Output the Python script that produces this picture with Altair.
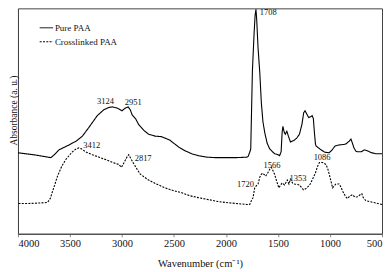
import altair as alt
import pandas as pd

# ---- data (absorbance in arbitrary units) ----
series_names = ["Pure PAA", "Crosslinked PAA"]

pure_wn = [4000, 3850, 3684, 3650, 3605, 3509, 3440, 3381, 3318, 3238, 3175, 3124, 3095, 3050,
           3000, 2965, 2941, 2920, 2903, 2870, 2840, 2790, 2744, 2680, 2620, 2585, 2540, 2505,
           2450, 2393, 2330, 2266, 2180, 2107, 2000, 1900, 1800, 1788, 1770, 1762, 1746, 1730,
           1720, 1712, 1705, 1692, 1675, 1660, 1645, 1628, 1605, 1580, 1533, 1500, 1485, 1470,
           1460, 1453, 1440, 1430, 1415, 1400, 1380, 1360, 1342, 1320, 1294, 1270, 1253, 1240,
           1225, 1205, 1185, 1172, 1160, 1150, 1140, 1134, 1110, 1086, 1050, 1007, 980, 950,
           911, 870, 847, 815, 799, 785, 770, 750, 736, 700, 670, 641, 600, 560, 500]
pure_abs = [83, 81, 78, 81, 86, 91, 95, 100, 109, 121, 127, 129.5, 130, 129,
            126, 129, 130, 127, 122, 118, 112, 106, 102, 100, 99.5, 98, 96, 93,
            88.5, 85, 82, 80, 78.5, 78, 78, 78, 78.5, 79, 84, 87, 167, 205,
            224, 230, 220, 191, 165, 134, 115, 104, 93, 87, 82, 81, 80, 84,
            104, 110, 104, 102, 105, 100, 94, 95, 96, 98, 102, 112, 124, 126,
            123, 119, 120, 121, 118, 104, 92, 90, 88, 86, 83.5, 83, 86, 90,
            91, 91.5, 92, 95, 97, 93, 88, 84.5, 84, 84, 86, 85, 83, 82, 82]

cross_wn = [4000, 3900, 3800, 3716, 3690, 3675, 3650, 3620, 3580, 3541, 3477, 3440, 3414, 3390,
            3350, 3286, 3220, 3158, 3090, 3031, 3005, 2975, 2950, 2935, 2910, 2888, 2860, 2824,
            2744, 2670, 2585, 2500, 2425, 2350, 2266, 2170, 2075, 2000, 1900, 1800, 1772, 1755,
            1740, 1724, 1710, 1692, 1675, 1660, 1645, 1619, 1600, 1580, 1564, 1550, 1533, 1510,
            1492, 1475, 1460, 1437, 1411, 1395, 1380, 1360, 1342, 1294, 1255, 1235, 1214, 1190,
            1172, 1141, 1120, 1102, 1071, 1038, 1020, 1007, 975, 960, 943, 911, 895, 880,
            850, 832, 810, 784, 760, 736, 710, 694, 680, 656, 620, 577, 540, 500]
cross_abs = [31, 31, 31.5, 32, 36, 41, 49, 59, 69, 76, 84, 87, 88, 87,
             84, 81, 78.5, 76, 73, 71, 68, 74, 79, 81, 76, 72, 67, 61,
             55, 51, 47, 44, 42, 39, 37, 35, 33, 32, 31, 30, 30, 34,
             37, 47, 49, 51, 58, 61, 62, 59, 62, 66, 68, 65, 61, 53,
             47, 50, 52, 50, 55, 51, 56, 52, 51, 50, 45, 46, 48, 51,
             55, 62, 69, 73, 73, 71, 66, 61, 47, 49, 51, 51, 48, 44,
             38, 36, 38.5, 40, 37.5, 38, 40, 41, 37, 34, 33, 32, 31, 30]

# peak annotations: text, anchor wavenumber, anchor absorbance, text alignment
ann_text = ["1708", "3124", "2951", "3412", "2817", "1720", "1566", "1353", "1086"]
ann_wn = [1676, 3158, 2891, 3372, 2878, 1731, 1557, 1389, 1076]
ann_abs = [227, 136.5, 135.5, 91, 77.5, 50.7, 70.7, 56.7, 78.3]
ann_align = ["left", "center", "center", "left", "left", "right", "center", "left", "center"]

tick_values = [4000, 3500, 3000, 2500, 2000, 1500, 1000, 500]

df = pd.concat([
    pd.DataFrame({"wn": pure_wn, "abs": pure_abs, "series": series_names[0]}),
    pd.DataFrame({"wn": cross_wn, "abs": cross_abs, "series": series_names[1]}),
])
ann = pd.DataFrame({"label": ann_text, "wn": ann_wn, "abs": ann_abs, "align": ann_align})

FONT = "Liberation Serif"

x_enc = alt.X(
    "wn:Q",
    scale=alt.Scale(domain=[500, 4000], reverse=True, nice=False, zero=False),
    axis=alt.Axis(
        values=tick_values, format="d", title="Wavenumber (cm⁻¹)",
        grid=False, tickSize=3, tickColor="#888", domainColor="#444",
        labelFont=FONT, labelFontSize=10.5, labelColor="#111", labelPadding=2,
        titleFont=FONT, titleFontSize=10.5, titleFontWeight="normal", titleColor="#111",
        titleY=30, titleBaseline="middle",
    ),
)
y_enc = alt.Y(
    "abs:Q",
    scale=alt.Scale(domain=[0, 231], nice=False, zero=False),
    axis=alt.Axis(
        labels=False, ticks=False, grid=False, domainColor="#444",
        title="Absorbance (a. u.)", titleFont=FONT, titleFontSize=9.5,
        titleFontWeight="normal", titleColor="#111",
        titleX=-4, titleY=102, titleBaseline="middle", titleAngle=270,
    ),
)

lines = alt.Chart(df).mark_line(color="black", strokeWidth=1.1).encode(
    x=x_enc,
    y=y_enc,
    strokeDash=alt.StrokeDash(
        "series:N",
        scale=alt.Scale(domain=series_names, range=[[1, 0], [2, 1.3]]),
        legend=alt.Legend(
            orient="none", legendX=21, legendY=12, title=None, padding=0,
            symbolType="stroke", symbolSize=180, symbolStrokeWidth=1,
            symbolStrokeColor="black", labelFont=FONT, labelFontSize=9,
            labelColor="#111", labelOffset=1, rowPadding=1,
        ),
    ),
    order="wn:Q",
)

texts = []
for a in ["left", "center", "right"]:
    texts.append(
        alt.Chart(ann).transform_filter(alt.datum.align == a)
        .mark_text(align=a, baseline="middle", font=FONT, fontSize=8.5, color="#111")
        .encode(x="wn:Q", y="abs:Q", text="label:N")
    )

chart = alt.layer(lines, *texts).properties(
    width=365, height=226,
    padding={"left": 10, "top": 0, "right": 2, "bottom": 36},
    autosize=alt.AutoSizeParams(type="none"),
).configure_view(stroke="#444", strokeWidth=1)

chart.save("out.html", embed_options={"renderer": "svg", "actions": False})
